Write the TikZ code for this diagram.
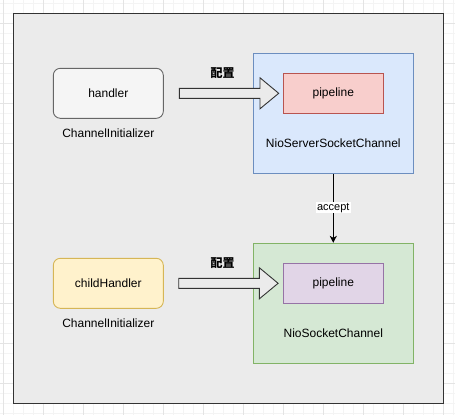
\documentclass[tikz,border=0pt]{standalone}
\usepackage{fontspec}
\setmainfont{Liberation Sans}
\newfontfamily\cjk{Noto Sans CJK SC}
\usetikzlibrary{arrows.meta}
\definecolor{bggray}{HTML}{EBEBEB}
\definecolor{hfill}{HTML}{F5F5F5}
\definecolor{hdraw}{HTML}{666666}
\definecolor{yfill}{HTML}{FFF2CC}
\definecolor{ydraw}{HTML}{D6B656}
\definecolor{bfill}{HTML}{DAE8FC}
\definecolor{bdraw}{HTML}{6C8EBF}
\definecolor{rfill}{HTML}{F8CECC}
\definecolor{rdraw}{HTML}{B85450}
\definecolor{gfill}{HTML}{D5E8D4}
\definecolor{gdraw}{HTML}{82B366}
\definecolor{pfill}{HTML}{E1D5E7}
\definecolor{pdraw}{HTML}{9673A6}
\definecolor{gridminor}{HTML}{F4F4F4}
\definecolor{gridmajor}{HTML}{E4E4E4}
\tikzset{
  box/.style={draw, line width=0.9pt, minimum width=#1, inner sep=0pt, font=\fontsize{12}{14}\selectfont},
  rbox/.style={box=110pt, minimum height=50pt, rounded corners=7pt},
  pipebox/.style={box=100pt, minimum height=40pt},
  chanbox/.style={box=160pt, minimum height=120pt},
  lbl/.style={inner sep=1pt, font=\fontsize{12}{14}\selectfont},
  cjklbl/.style={inner sep=1pt, font=\cjk\fontsize{12}{14}\selectfont\bfseries},
  blockarrow/.style={draw=black!80, fill=bggray, line width=0.9pt, line join=miter},
}
\begin{document}
\begin{tikzpicture}[x=1pt,y=-1pt]
\useasboundingbox (0,0) rectangle (455,415);
\fill[white] (0,0) rectangle (455,415);
% grid
\foreach \i in {0,...,45} {\draw[gridminor, line width=0.6pt] (3.3+10*\i,0) -- (3.3+10*\i,415);}
\foreach \i in {0,...,41} {\draw[gridminor, line width=0.6pt] (0,3.3+10*\i) -- (455,3.3+10*\i);}
\foreach \i in {0,...,11} {\draw[gridmajor, line width=0.6pt] (3.3+40*\i,0) -- (3.3+40*\i,415);}
\foreach \i in {0,...,10} {\draw[gridmajor, line width=0.6pt] (0,23.3+40*\i) -- (455,23.3+40*\i);}
% outer container
\draw[fill=bggray, draw=black!80, line width=0.9pt] (13.3,13.3) rectangle (443.3,403.3);

% left boxes
\node[rbox, fill=hfill, draw=hdraw] (handler) at (108.3,93.3) {handler};
\node[lbl] (init1) at (108.3,133.3) {ChannelInitializer};
\node[rbox, fill=yfill, draw=ydraw] (child) at (108.3,283.3) {childHandler};
\node[lbl] (init2) at (108.3,323.3) {ChannelInitializer};

% channels
\node[chanbox, fill=bfill, draw=bdraw] (server) at (333.3,113.3) {};
\node[pipebox, fill=rfill, draw=rdraw] (pipe1) at (333.3,93.3) {pipeline};
\node[lbl] (serverlbl) at (333.3,143.3) {NioServerSocketChannel};
\node[chanbox, fill=gfill, draw=gdraw] (sock) at (333.3,303.3) {};
\node[pipebox, fill=pfill, draw=pdraw] (pipe2) at (333.3,283.3) {pipeline};
\node[lbl] (socklbl) at (333.3,333.3) {NioSocketChannel};

% accept
\draw[line width=0.9pt, -{Stealth[length=7pt,width=7pt,inset=2pt]}] (server.south) -- (sock.north)
  node[pos=0.49, fill=white, inner sep=1pt, font=\fontsize{11}{13}\selectfont] (acc) {accept};

% block arrows
\coordinate (a1) at (179.3,93.3);
\draw[blockarrow] (a1) ++(0,-5) -- ++(80.7,0) -- ++(0,-10.5) -- ++(18.7,15.5) -- ++(-18.7,15.5) -- ++(0,-10.5) -- ++(-80.7,0) -- cycle;
\node[cjklbl] (cfg1) at (222.7,73.3) {配置};
\coordinate (a2) at (178.7,283.3);
\draw[blockarrow] (a2) ++(0,-5) -- ++(80.7,0) -- ++(0,-10.5) -- ++(18.7,15.5) -- ++(-18.7,15.5) -- ++(0,-10.5) -- ++(-80.7,0) -- cycle;
\node[cjklbl] (cfg2) at (222.7,263.3) {配置};
\end{tikzpicture}
\end{document}
